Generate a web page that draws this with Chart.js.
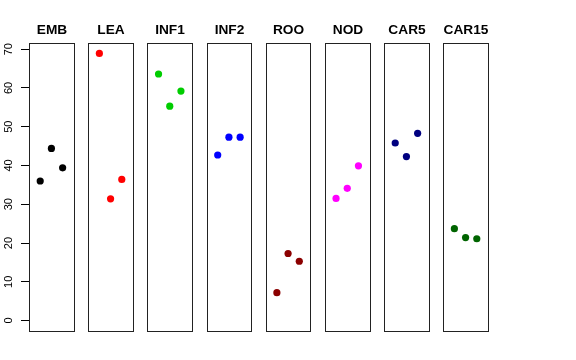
<!DOCTYPE html>
<html>
<head>
<meta charset="utf-8">
<script src="https://cdn.jsdelivr.net/npm/chart.js@4"></script>
<style>
  body { margin: 0; background: #fff; }
</style>
</head>
<body>
<canvas id="grafico" width="576" height="360"></canvas>
<script>
// categorias e valores (3 pontos por painel)
const categorias = ['EMB', 'LEA', 'INF1', 'INF2', 'ROO', 'NOD', 'CAR5', 'CAR15'];
const emb = [36.0, 44.4, 39.4];
const lea = [68.9, 31.4, 36.4];
const inf1 = [63.6, 55.3, 59.2];
const inf2 = [42.7, 47.3, 47.3];
const roo = [7.2, 17.3, 15.3];
const nod = [31.5, 34.1, 39.9];
const car5 = [45.8, 42.3, 48.3];
const car15 = [23.7, 21.4, 21.1];
const cores = ['#000000', '#ff0000', '#00cd00', '#0000ff', '#8b0000', '#ff00ff', '#000080', '#006400'];
const yTicks = [0, 10, 20, 30, 40, 50, 60, 70];

const valores = [emb, lea, inf1, inf2, roo, nod, car5, car15];

// cada painel vai de 0 a 4 em x, pontos em 1, 2, 3
const largura = 4;
const espaco = 1.28;

const datasets = valores.map((serie, i) => ({
  label: categorias[i],
  data: serie.map((v, j) => ({ x: i * (largura + espaco) + j + 1, y: v })),
  backgroundColor: cores[i],
  borderWidth: 0,
  pointRadius: 3.6
}));

const paineis = {
  id: 'paineis',
  beforeDatasetsDraw(chart) {
    const ctx = chart.ctx;
    const x = chart.scales.x;
    const area = chart.chartArea;
    ctx.save();
    ctx.strokeStyle = '#222';
    ctx.lineWidth = 1;
    ctx.fillStyle = '#000';
    ctx.font = 'bold 13.7px "Liberation Sans", Arial, sans-serif';
    ctx.textAlign = 'center';
    ctx.textBaseline = 'alphabetic';
    categorias.forEach((nome, i) => {
      const x0 = Math.round(x.getPixelForValue(i * (largura + espaco))) + 0.5;
      const x1 = Math.round(x.getPixelForValue(i * (largura + espaco) + largura)) + 0.5;
      const top = Math.round(area.top) + 0.5;
      const bottom = Math.round(area.bottom) + 0.5;
      ctx.strokeRect(x0, top, x1 - x0, bottom - top);
      ctx.fillText(nome, (x0 + x1) / 2, 34.3);
    });
    // rotulos do eixo y, girados como no R
    const y = chart.scales.y;
    ctx.font = '11px "Liberation Sans", Arial, sans-serif';
    ctx.textBaseline = 'middle';
    yTicks.forEach(v => {
      ctx.save();
      ctx.translate(8.5, y.getPixelForValue(v));
      ctx.rotate(-Math.PI / 2);
      ctx.fillText(String(v), 0, 0);
      ctx.restore();
    });
    ctx.restore();
  }
};

const grafico = new Chart(document.getElementById('grafico'), {
  type: 'scatter',
  data: { datasets },
  options: {
    responsive: false,
    animation: false,
    devicePixelRatio: 1,
    layout: { padding: { left: 0, right: 88, top: 43, bottom: 29 } },
    plugins: { legend: { display: false }, tooltip: { enabled: false } },
    scales: {
      x: {
        type: 'linear',
        min: 0,
        max: categorias.length * largura + (categorias.length - 1) * espaco,
        display: false
      },
      y: {
        min: -2.7,
        max: 71.6,
        afterBuildTicks: s => { s.ticks = yTicks.map(v => ({ value: v })); },
        afterFit: s => { s.width = 29; },
        ticks: { display: false },
        grid: { drawOnChartArea: false, drawTicks: true, tickLength: 8, color: '#000' },
        border: { display: false }
      }
    }
  },
  plugins: [paineis]
});
</script>
</body>
</html>
